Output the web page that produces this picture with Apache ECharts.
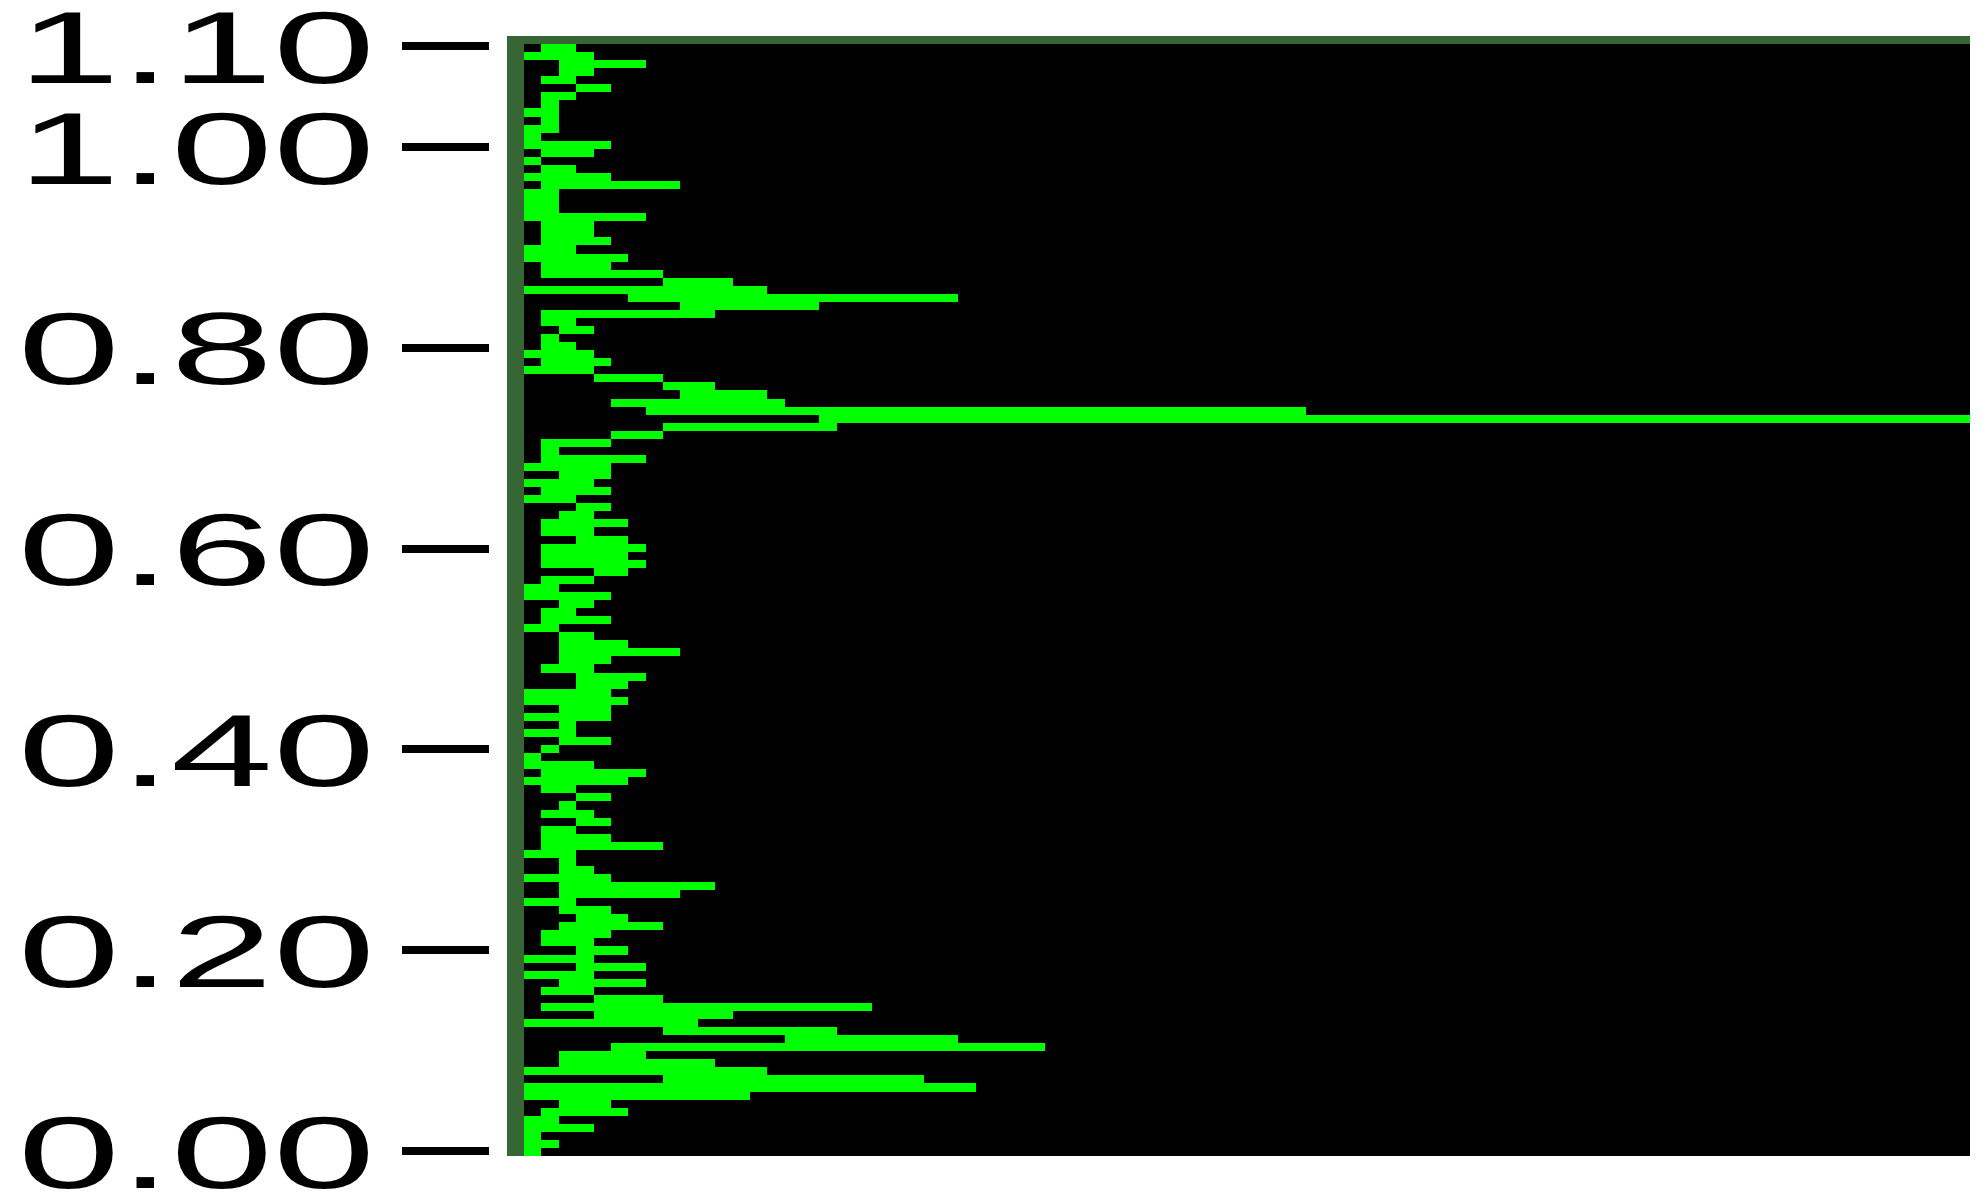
<!DOCTYPE html>
<html>
<head>
<meta charset="utf-8">
<title>Histogram</title>
<script src="https://cdn.jsdelivr.net/npm/echarts@6/dist/echarts.min.js"></script>
<style>
  html, body { margin: 0; padding: 0; background: #ffffff; }
  #chart { width: 1981px; height: 1192px; }
</style>
</head>
<body>
<div id="chart"></div>
<script>
// Each row of the trace: green span runs from rowStart to rowEnd (in x units), rows listed top to bottom.
const rowStart = [
  1, 0, 2, 2, 1, 3, 1, 1, 0, 1, 0, 0, 0, 1, 0, 1, 0, 1, 0, 0,
  0, 0, 1, 1, 1, 0, 0, 1, 1, 8, 0, 6, 9, 1, 1, 2, 1, 1, 0, 1,
  0, 4, 8, 9, 5, 7, 17, 8, 5, 1, 1, 1, 0, 2, 0, 1, 0, 3, 2, 1,
  1, 3, 1, 1, 1, 4, 1, 0, 0, 2, 1, 1, 0, 2, 2, 2, 2, 1, 3, 3,
  0, 0, 2, 0, 2, 0, 2, 1, 0, 0, 1, 0, 1, 3, 2, 1, 3, 1, 1, 1,
  0, 2, 2, 0, 2, 2, 0, 2, 3, 2, 1, 1, 3, 0, 3, 0, 2, 1, 4, 1,
  4, 0, 8, 15, 5, 2, 2, 0, 8, 0, 0, 2, 1, 0, 0, 0, 0, 0
];
const rowEnd = [
  3, 4, 7, 4, 3, 5, 3, 2, 2, 2, 2, 1, 5, 4, 1, 3, 5, 9, 2, 2,
  2, 7, 4, 4, 5, 3, 6, 5, 8, 12, 14, 25, 17, 11, 3, 4, 2, 3, 4, 5,
  4, 8, 11, 14, 15, 45, 84, 18, 8, 5, 2, 7, 5, 5, 4, 5, 3, 5, 4, 6,
  4, 6, 7, 6, 7, 6, 4, 2, 5, 4, 3, 5, 2, 4, 6, 9, 5, 4, 7, 6,
  5, 6, 5, 5, 3, 3, 5, 2, 1, 4, 7, 6, 3, 5, 3, 4, 5, 3, 5, 8,
  3, 3, 4, 5, 11, 9, 3, 5, 6, 8, 5, 4, 6, 4, 7, 4, 7, 4, 8, 20,
  12, 10, 18, 25, 30, 7, 11, 14, 23, 26, 13, 5, 6, 2, 4, 1, 2, 1
];
// Vertical scale: tick positions and their labels
const tickValues = [0, 0.2, 0.4, 0.6, 0.8, 1.0, 1.1];
const tickLabels = ['0.00', '0.20', '0.40', '0.60', '0.80', '1.00', '1.10'];

const rowIds = rowStart.map((_, i) => String(i));
const spans = rowStart.map((s, i) => [s, rowEnd[i], i]);

const TRACE_GREEN = '#00ff00';
const FRAME_GREEN = '#356633';

const chart = echarts.init(document.getElementById('chart'), null, { renderer: 'canvas' });

chart.setOption({
  animation: false,
  backgroundColor: '#ffffff',
  grid: [
    // dark green frame behind the plot (left and top strips)
    { left: 507, top: 36, right: 11, bottom: 36, show: true, backgroundColor: FRAME_GREEN, borderWidth: 0, z: 0 },
    // black plot area
    { left: 524, top: 44, right: 11, bottom: 36, show: true, backgroundColor: '#000000', borderWidth: 0, z: 1 },
    // scale carrying the tick marks
    { left: 489, top: 46, right: 11, bottom: 41, show: false }
  ],
  xAxis: [
    { gridIndex: 1, type: 'value', min: 0, max: 83.2, show: false },
    { gridIndex: 2, type: 'value', min: 0, max: 1, show: false }
  ],
  yAxis: [
    { gridIndex: 1, type: 'category', data: rowIds, inverse: true, show: false, boundaryGap: true },
    {
      gridIndex: 2, type: 'value', min: 0, max: 1.1, interval: 0.1, position: 'left',
      axisLine: { show: false },
      axisTick: { show: true, length: 87, customValues: tickValues, lineStyle: { color: '#000000', width: 8, cap: 'butt' } },
      axisLabel: { show: false },
      splitLine: { show: false }
    }
  ],
  series: [{
    type: 'custom',
    xAxisIndex: 0,
    yAxisIndex: 0,
    clip: true,
    encode: { x: [0, 1], y: 2 },
    data: spans,
    renderItem: function (params, api) {
      const a = api.coord([api.value(0), api.value(2)]);
      const b = api.coord([api.value(1), api.value(2)]);
      const h = api.size([0, 1])[1];
      const y0 = Math.round(a[1] - h / 2);
      const y1 = Math.round(a[1] + h / 2);
      const x0 = Math.round(a[0]);
      const x1 = Math.round(b[0]);
      return {
        type: 'rect',
        shape: { x: x0, y: y0, width: x1 - x0, height: y1 - y0 },
        style: { fill: TRACE_GREEN }
      };
    }
  }]
});

// Wide tick labels, placed at the scale's own tick positions
const labelGraphics = tickValues.map((v, i) => {
  const py = chart.convertToPixel({ yAxisIndex: 1 }, v);
  return {
    type: 'text',
    x: 375,
    y: py + 9,
    scaleX: 1.8,
    scaleY: 1,
    silent: true,
    style: {
      text: tickLabels[i],
      x: 0,
      y: 0,
      align: 'right',
      verticalAlign: 'middle',
      fill: '#000000',
      font: '102px "Liberation Sans"'
    }
  };
});
chart.setOption({ graphic: labelGraphics });
</script>
</body>
</html>
